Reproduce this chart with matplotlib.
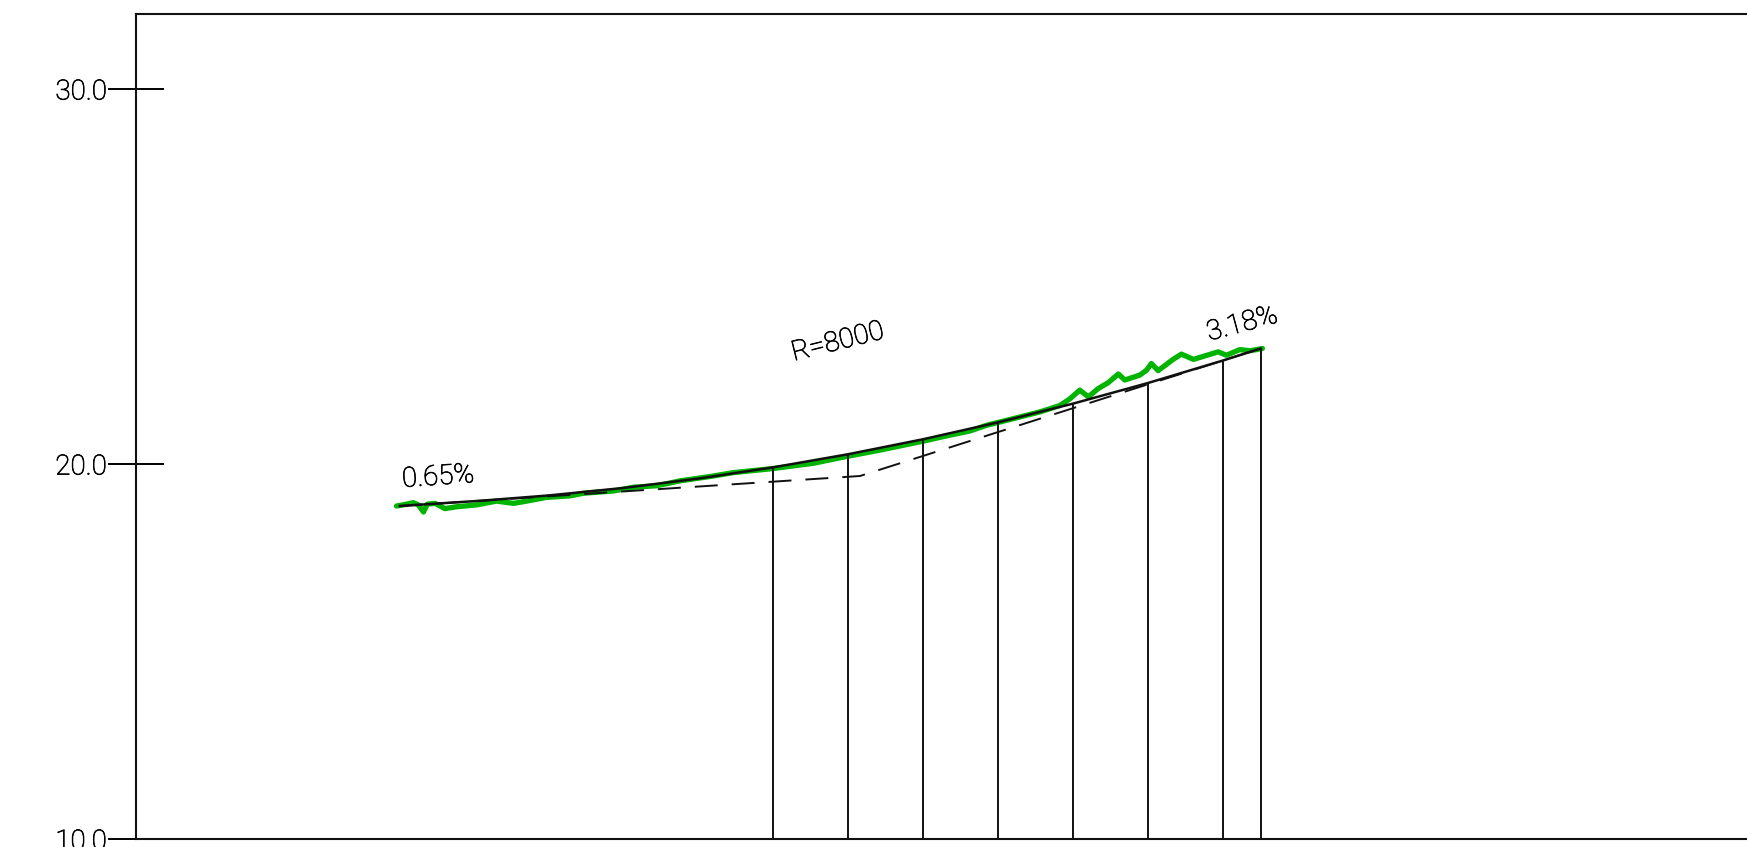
import matplotlib
matplotlib.use("Agg")
import matplotlib.pyplot as plt
from matplotlib.pyplot import rcParams
import matplotlib.patheffects as pe

# thin looking font, closest thing to the cad font of the original
rcParams["font.family"] = ["Roboto", "DejaVu Sans"]
rcParams["font.weight"] = "light"

# existing ground
ground_x = [69.6, 71.9, 74.1, 75.4, 76.8, 77.8, 79.9, 82.5, 85.6, 91.0, 96.3, 100.8, 104.3,
            109.6, 115.9, 119.4, 127.4, 132.8, 139.0, 145.2, 154.1, 159.4, 170.1, 180.8,
            189.6, 198.5, 203.8, 210.1, 216.3, 222.5, 226.9, 234.1, 241.2, 246.5, 249.2,
            251.8, 254.1, 256.7, 259.4, 262.1, 263.8, 267.8, 269.6, 270.9, 272.7, 276.7,
            278.9, 282.1, 288.7, 290.9, 294.5, 297.2, 300.5]
ground_y = [18.88, 18.92, 18.97, 18.91, 18.72, 18.93, 18.95, 18.81, 18.86, 18.91, 19.01, 18.95, 19.01,
            19.11, 19.15, 19.22, 19.28, 19.38, 19.42, 19.55, 19.68, 19.77, 19.88, 20.02,
            20.20, 20.37, 20.48, 20.61, 20.75, 20.88, 21.03, 21.21, 21.39, 21.56, 21.74,
            21.97, 21.79, 22.01, 22.17, 22.40, 22.24, 22.37, 22.50, 22.68, 22.49, 22.79,
            22.93, 22.79, 22.99, 22.90, 23.05, 23.02, 23.08]

# design profile with the vertical curve
profile_x = [70.5, 92, 110, 130, 150, 170, 190, 210, 230, 250, 270, 290, 294.4, 300]
profile_y = [18.88, 19.02, 19.16, 19.36, 19.61, 19.91, 20.26, 20.66, 21.11, 21.61, 22.16, 22.76, 22.90, 23.08]

# tangents, dashed
tangent_x = [70.5, 193.2, 300]
tangent_y = [18.88, 19.68, 23.08]

# vertical station lines
station_x = [170, 190, 210, 230, 250, 270, 290, 300]
station_top = [19.91, 20.26, 20.66, 21.11, 21.61, 22.16, 22.76, 23.08]

y_ticks = [10, 20, 30]
y_labels = ["10.0", "20.0", "30.0"]

fig = plt.figure(figsize=(17.47, 8.47), dpi=100)
ax = fig.add_axes([135.5 / 1747, 8 / 847, 1 - 135.5 / 1747, 825 / 847])

ax.plot(ground_x, ground_y, color="#00b400", linewidth=3.8, solid_joinstyle="round", solid_capstyle="round", zorder=2)
ax.plot(tangent_x, tangent_y, color="#111111", linewidth=1.4, dashes=(11.8, 7.2), zorder=3)
ax.plot(profile_x, profile_y, color="#111111", linewidth=1.8, zorder=4)
ax.vlines(station_x, 10, station_top, color="#111111", linewidth=1.4, zorder=3)

# light weight comes out grey, a thin stroke makes it dark like the original
dark = [pe.withStroke(linewidth=0.5, foreground="black")]
ax.text(80.7, 19.65, "0.65%", fontsize=20, rotation=4, ha="center", va="center", color="black", path_effects=dark)
ax.text(187.3, 23.25, "R=8000", fontsize=20, rotation=14, ha="center", va="center", color="black", path_effects=dark)
ax.text(295.1, 23.73, "3.18%", fontsize=20, rotation=15, ha="center", va="center", color="black", path_effects=dark)

ax.set_xlim(0, 429.73)
ax.set_ylim(10, 32)
ax.set_xticks([])
ax.set_yticks(y_ticks)
ax.set_yticklabels(y_labels, fontsize=20, color="black", path_effects=dark)
ax.tick_params(axis="y", direction="inout", length=41, width=1.4, pad=0)

ax.spines["right"].set_visible(False)
for side in ["left", "top", "bottom"]:
    ax.spines[side].set_linewidth(1.5)
    ax.spines[side].set_color("#111111")

plt.savefig("out.png", dpi=100)
